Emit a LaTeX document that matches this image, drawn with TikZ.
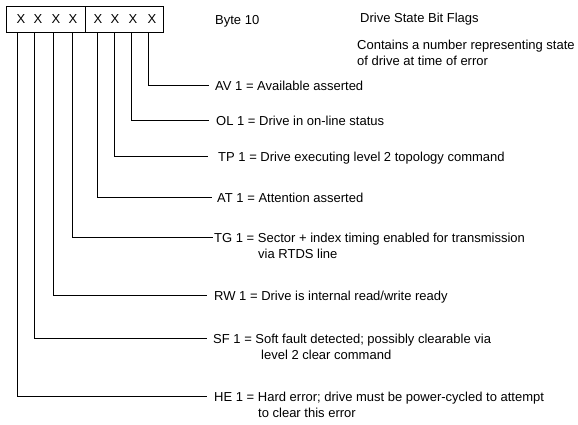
\documentclass[tikz,border=0pt]{standalone}
\usepackage{fontspec}
\setmainfont{Liberation Sans}
\begin{document}
\begin{tikzpicture}[x=1pt,y=-1pt,
  lbl/.style={font=\fontsize{13}{16.5}\selectfont, inner sep=0pt, anchor=base west},
  bit/.style={font=\fontsize{13}{16}\selectfont, inner sep=0pt},
  half/.style={draw, line width=0.9pt, inner sep=0pt, minimum height=26pt, anchor=north west},
  conn/.style={line width=0.9pt}]
\useasboundingbox (0,0) rectangle (578,424);
% register box
\node[half, minimum width=79pt] (hi) at (6,6) {};
\node[half, minimum width=78pt] (lo) at (85,6) {};
% bits
\node[bit] (x7) at (21,19.5) {X};
\node[bit] (x6) at (38,19.5) {X};
\node[bit] (x5) at (56,19.5) {X};
\node[bit] (x4) at (73,19.5) {X};
\node[bit] (x3) at (98,19.5) {X};
\node[bit] (x2) at (115,19.5) {X};
\node[bit] (x1) at (133,19.5) {X};
\node[bit] (x0) at (152,19.5) {X};
\coordinate (b7) at (17,32);
\coordinate (b6) at (34,32);
\coordinate (b5) at (53,32);
\coordinate (b4) at (72,32);
\coordinate (b3) at (97,32);
\coordinate (b2) at (114,32);
\coordinate (b1) at (131,32);
\coordinate (b0) at (148,32);
% header texts
\node[lbl] (byte) at (215,24) {Byte 10};
\node[lbl] (title) at (360,22) {Drive State Bit Flags};
\node[lbl] (desc1) at (357,49) {Contains a number representing state};
\node[lbl] (desc2) at (357,65.5) {of drive at time of error};
% labels
\node[lbl] (av) at (215,90) {AV 1 = Available asserted};
\node[lbl] (ol) at (216,125) {OL 1 = Drive in on-line status};
\node[lbl] (tp) at (218,161) {TP 1 = Drive executing level 2 topology command};
\node[lbl] (at) at (217,202) {AT 1 = Attention asserted};
\node[lbl] (tg) at (214,242) {TG 1 = Sector + index timing enabled for transmission};
\node[lbl] (tgb) at (258,258.5) {via RTDS line};
\node[lbl] (rw) at (214,300) {RW 1 = Drive is internal read/write ready};
\node[lbl] (sf) at (213,343) {SF 1 = Soft fault detected; possibly clearable via};
\node[lbl] (sfb) at (261,359.5) {level 2 clear command};
\node[lbl] (he) at (214,401) {HE 1 = Hard error; drive must be power-cycled to attempt};
\node[lbl] (heb) at (258,417.5) {to clear this error};
% connector ends
\coordinate (e0) at (209,85);
\coordinate (e1) at (209,120);
\coordinate (e2) at (208,156);
\coordinate (e3) at (212,197);
\coordinate (e4) at (213,237);
\coordinate (e5) at (207,295);
\coordinate (e6) at (207,338);
\coordinate (e7) at (207,396);
\draw[conn] (b0) |- (e0);
\draw[conn] (b1) |- (e1);
\draw[conn] (b2) |- (e2);
\draw[conn] (b3) |- (e3);
\draw[conn] (b4) |- (e4);
\draw[conn] (b5) |- (e5);
\draw[conn] (b6) |- (e6);
\draw[conn] (b7) |- (e7);
\end{tikzpicture}
\end{document}
